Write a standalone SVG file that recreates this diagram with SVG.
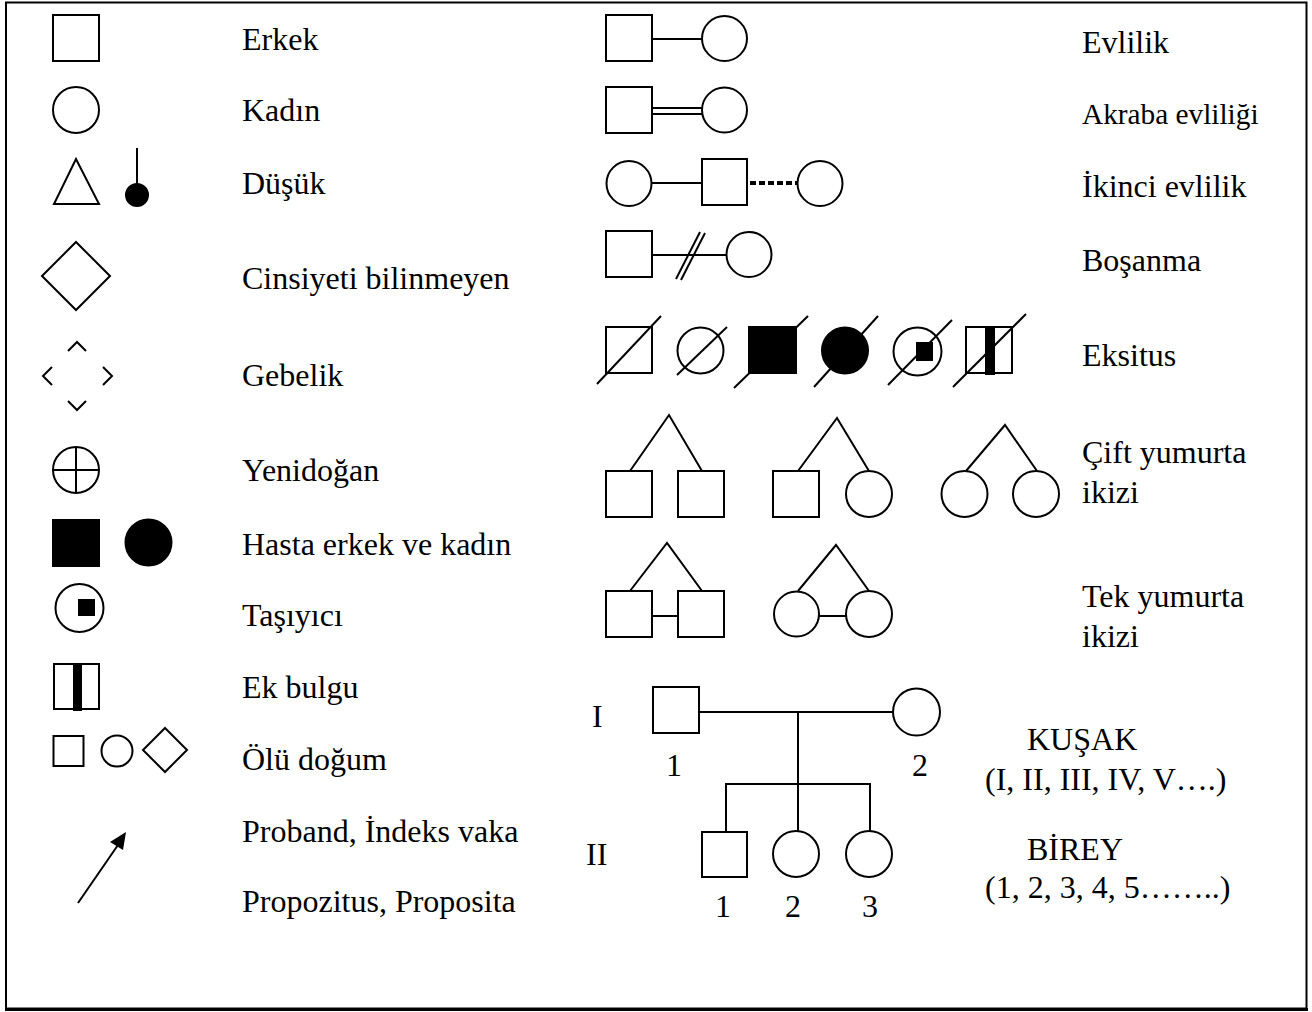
<svg xmlns="http://www.w3.org/2000/svg" width="1312" height="1012" viewBox="0 0 1312 1012">
  <style>
    .s { fill: none; stroke: #000; stroke-width: 2; }
    .f { fill: #000; stroke: #000; stroke-width: 2; }
    .ln { stroke: #000; stroke-width: 2; fill: none; }
    text { font-family: "Liberation Serif", "Times New Roman", serif; font-size: 32px; fill: #000; }
    .sm { font-size: 29.3px; }
  </style>

  <rect x="0" y="0" width="1312" height="1012" fill="#fff"/>
  <!-- outer frame -->
  <rect x="6" y="2.5" width="1300.5" height="1006" fill="none" stroke="#000" stroke-width="2"/>
  <line x1="5" y1="1009.5" x2="1308" y2="1009.5" stroke="#000" stroke-width="3"/>

  <!-- left legend column -->
  <g id="erkek">
    <rect class="s" x="53" y="15" width="46" height="46"/>
    <text x="242" y="50">Erkek</text>
  </g>
  <g id="kadin">
    <circle class="s" cx="76" cy="110" r="23"/>
    <text x="242" y="121">Kadın</text>
  </g>
  <g id="dusuk">
    <polygon class="s" points="76,159 99,204 54,204"/>
    <line class="ln" x1="137" y1="148" x2="137" y2="184"/>
    <circle class="f" cx="137" cy="195" r="11"/>
    <text x="242" y="194">Düşük</text>
  </g>
  <g id="cinsiyet">
    <polygon class="s" points="76,242 110,276 76,310 42,276"/>
    <text x="242" y="289">Cinsiyeti bilinmeyen</text>
  </g>
  <g id="gebelik">
    <polyline class="s" points="68,351 77,342 86,351"/>
    <polyline class="s" points="52,367 43,376 52,385"/>
    <polyline class="s" points="103,367 112,376 103,385"/>
    <polyline class="s" points="68,401 77,410 86,401"/>
    <text x="242" y="386">Gebelik</text>
  </g>
  <g id="yenidogan">
    <circle class="s" cx="76" cy="470" r="23"/>
    <line class="ln" x1="53" y1="470" x2="99" y2="470"/>
    <line class="ln" x1="76" y1="447" x2="76" y2="493"/>
    <text x="242" y="481">Yenidoğan</text>
  </g>
  <g id="hasta">
    <rect class="f" x="53" y="520" width="46" height="46"/>
    <circle class="f" cx="148.5" cy="542.5" r="23"/>
    <text x="242" y="555">Hasta erkek ve kadın</text>
  </g>
  <g id="tasiyici">
    <circle class="s" cx="79.5" cy="608" r="24"/>
    <rect fill="#000" x="78" y="599" width="17" height="17"/>
    <text x="242" y="626">Taşıyıcı</text>
  </g>
  <g id="ek-bulgu">
    <rect class="s" x="54" y="664" width="45" height="45"/>
    <rect fill="#000" x="73" y="663" width="9" height="48"/>
    <text x="242" y="698">Ek bulgu</text>
  </g>
  <g id="olu-dogum">
    <rect class="s" x="53.5" y="736" width="30" height="30"/>
    <circle class="s" cx="117" cy="751" r="15.5"/>
    <polygon class="s" points="165,728 187,750 165,772 143,750"/>
    <text x="242" y="770">Ölü doğum</text>
  </g>
  <g id="proband">
    <line class="ln" x1="78" y1="903" x2="118" y2="845" stroke-width="2.5"/>
    <polygon fill="#000" points="126,832 110,842 123,850"/>
    <text x="242" y="842">Proband, İndeks vaka</text>
    <text x="242" y="912">Propozitus, Proposita</text>
  </g>

  <!-- middle column: relationship symbols -->
  <g id="evlilik">
    <rect class="s" x="606" y="15" width="46" height="46"/>
    <circle class="s" cx="724.5" cy="38.5" r="22.5"/>
    <text x="1082" y="53">Evlilik</text>
  </g>
  <g id="akraba">
    <rect class="s" x="606" y="87" width="46" height="46"/>
    <circle class="s" cx="724.5" cy="110" r="22.5"/>
    <text class="sm" x="1082" y="124">Akraba evliliği</text>
  </g>
  <g id="ikinci">
    <circle class="s" cx="629" cy="183.5" r="22.5"/>
    <rect class="s" x="702" y="159" width="45" height="46"/>
    <circle class="s" cx="820" cy="183.5" r="22.5"/>
    <text x="1082" y="197">İkinci evlilik</text>
  </g>
  <g id="bosanma">
    <rect class="s" x="606" y="231" width="46" height="46"/>
    <circle class="s" cx="749" cy="254.5" r="22.5"/>
    <text x="1082" y="271">Boşanma</text>
  </g>
  <g id="eksitus">
    <rect class="s" x="606" y="327" width="46" height="46"/>
    <circle class="s" cx="700.5" cy="350.5" r="23"/>
    <rect class="f" x="749" y="327" width="47" height="46"/>
    <circle class="f" cx="845" cy="350.5" r="23"/>
    <circle class="s" cx="917.5" cy="351.5" r="24"/>
    <rect fill="#000" x="916" y="342" width="17" height="19"/>
    <rect class="s" x="966" y="327" width="46" height="46"/>
    <rect fill="#000" x="985" y="327" width="10" height="48"/>
    <line class="ln" x1="597" y1="384" x2="661" y2="316"/>
    <line class="ln" x1="677" y1="375" x2="727" y2="327"/>
    <line class="ln" x1="734" y1="388" x2="808" y2="316"/>
    <line class="ln" x1="814" y1="387" x2="878" y2="316"/>
    <line class="ln" x1="888" y1="385" x2="952" y2="320"/>
    <line class="ln" x1="953" y1="387" x2="1026" y2="314"/>
    <text x="1082" y="366">Eksitus</text>
  </g>
  <g id="cift-yumurta">
    <rect class="s" x="606" y="471" width="46" height="46"/>
    <rect class="s" x="678" y="471" width="46" height="46"/>
    <rect class="s" x="773" y="471" width="46" height="46"/>
    <circle class="s" cx="869" cy="494" r="23"/>
    <circle class="s" cx="964.5" cy="494" r="23"/>
    <circle class="s" cx="1036" cy="494" r="23"/>
    <text x="1082" y="463">Çift yumurta</text>
    <text x="1082" y="503">ikizi</text>
  </g>
  <g id="tek-yumurta">
    <rect class="s" x="606" y="591" width="46" height="46"/>
    <rect class="s" x="678" y="591" width="46" height="46"/>
    <circle class="s" cx="796.5" cy="614" r="22.5"/>
    <circle class="s" cx="869" cy="614" r="23"/>
    <text x="1082" y="607">Tek yumurta</text>
    <text x="1082" y="647">ikizi</text>
  </g>

  <!-- pedigree example -->
  <g id="kusak-labels">
    <text x="592" y="727">I</text>
    <text x="586" y="865">II</text>
  </g>
  <g id="I-1">
    <rect class="s" x="653" y="687" width="46" height="46"/>
    <text x="666" y="776">1</text>
  </g>
  <g id="I-2">
    <circle class="s" cx="916.5" cy="712" r="23.5"/>
    <text x="912" y="776">2</text>
  </g>
  <g id="II-1">
    <rect class="s" x="702" y="832" width="45" height="45"/>
    <text x="715" y="917">1</text>
  </g>
  <g id="II-2">
    <circle class="s" cx="796" cy="854" r="23"/>
    <text x="785" y="917">2</text>
  </g>
  <g id="II-3">
    <circle class="s" cx="869" cy="854" r="23"/>
    <text x="862" y="917">3</text>
  </g>
  <g id="kusak-info">
    <text x="1027" y="750">KUŞAK</text>
    <text x="985" y="790">(I, II, III, IV, V….)</text>
    <text x="1027" y="860">BİREY</text>
    <text x="985" y="898">(1, 2, 3, 4, 5……..)</text>
  </g>

  <!-- connectors -->
  <g id="connectors">
    <line class="ln" x1="652" y1="39" x2="702" y2="39"/>
    <line class="ln" x1="652" y1="108" x2="702" y2="108"/>
    <line class="ln" x1="652" y1="114" x2="702" y2="114"/>
    <line class="ln" x1="651" y1="183" x2="702" y2="183"/>
    <line x1="750" y1="183" x2="797" y2="183" stroke="#000" stroke-width="4" stroke-dasharray="6 3"/>
    <line class="ln" x1="652" y1="255" x2="726" y2="255"/>
    <line class="ln" x1="676" y1="279" x2="700" y2="232"/>
    <line class="ln" x1="681" y1="280" x2="705" y2="233"/>
    <polyline class="ln" points="630,471 669,415 702,471"/>
    <polyline class="ln" points="798,471 837,418 869,471"/>
    <polyline class="ln" points="966,471 1005,425 1037,471"/>
    <polyline class="ln" points="630,591 667,543 702,591"/>
    <polyline class="ln" points="798,591 836,545 869,591"/>
    <line class="ln" x1="652" y1="616" x2="678" y2="616"/>
    <line class="ln" x1="819" y1="616" x2="846" y2="616"/>
    <line class="ln" x1="699" y1="712" x2="893" y2="712"/>
    <line class="ln" x1="798" y1="712" x2="798" y2="784"/>
    <polyline class="ln" points="726,832 726,784 870,784 870,831"/>
    <line class="ln" x1="798" y1="784" x2="798" y2="831"/>
  </g>
</svg>
